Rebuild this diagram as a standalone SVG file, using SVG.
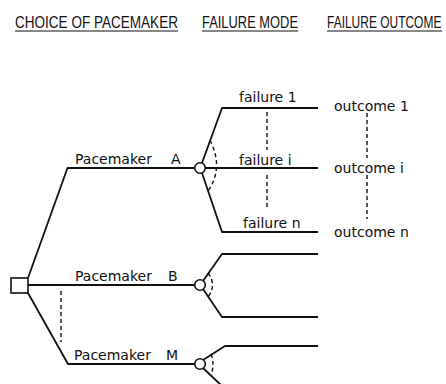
<svg xmlns="http://www.w3.org/2000/svg" width="446" height="384" viewBox="0 0 446 384">
<style>
.hdr{font-family:"Liberation Sans",Arial,sans-serif;font-size:17px;fill:#111}
.lbl{font-family:"DejaVu Sans","Liberation Sans",sans-serif;font-size:14px;fill:#111}
.ln{fill:none;stroke:#111;stroke-width:1.8;stroke-linejoin:round}
.ul{fill:none;stroke:#111;stroke-width:1.2}
.dash{fill:none;stroke:#111;stroke-width:1.4;stroke-dasharray:4 3}
.nd{fill:#fff;stroke:#111;stroke-width:1.6}
</style>
<rect width="446" height="384" fill="#fff"/>
<g id="headers">
<text class="hdr" transform="translate(15,28) scale(0.776,1)" textLength="210" lengthAdjust="spacingAndGlyphs">CHOICE OF PACEMAKER</text>
<line class="ul" x1="15" y1="31" x2="178" y2="31"/>
<text class="hdr" transform="translate(202,28) scale(0.753,1)" textLength="127.5" lengthAdjust="spacingAndGlyphs">FAILURE MODE</text>
<line class="ul" x1="202" y1="31" x2="298" y2="31"/>
<text class="hdr" transform="translate(327,28) scale(0.7,1)" textLength="163.4" lengthAdjust="spacingAndGlyphs">FAILURE OUTCOME</text>
<line class="ul" x1="327" y1="31" x2="442" y2="31"/>
</g>
<g id="connectors">
<polyline class="ln" points="28,278 67.5,168 195,168"/>
<line class="ln" x1="28" y1="285" x2="195" y2="285"/>
<polyline class="ln" points="28,293 68,364 195,364"/>
<polyline class="ln" points="202,163 222,108 318,108"/>
<line class="ln" x1="205" y1="168" x2="318" y2="168"/>
<polyline class="ln" points="202,173 222,232 318,232"/>
<polyline class="ln" points="203,281 222,254 318,254"/>
<polyline class="ln" points="203,289 222,317 318,317"/>
<polyline class="ln" points="203,360 225,346 318,346"/>
<line class="ln" x1="203" y1="368" x2="222" y2="386"/>
<path class="dash" d="M210,140 Q224,168 208,191"/>
<path class="dash" d="M208,273 Q217,285 208,297"/>
<path class="dash" d="M211,354 Q215,364 211,375"/>
<line class="dash" x1="267" y1="112" x2="267" y2="150"/>
<line class="dash" x1="267" y1="175" x2="267" y2="210"/>
<line class="dash" x1="367" y1="113" x2="367" y2="158"/>
<line class="dash" x1="367" y1="175" x2="367" y2="219"/>
<line class="dash" x1="61" y1="291" x2="61" y2="342"/>
</g>
<g id="decision"><rect class="nd" x="11" y="278" width="17" height="15"/></g>
<g id="pacemakerA">
<text class="lbl" x="75" y="164" font-size="15">Pacemaker<tspan x="171">A</tspan></text>
<circle class="nd" cx="200" cy="168" r="5.3"/>
</g>
<g id="pacemakerB">
<text class="lbl" x="75" y="281" font-size="15">Pacemaker<tspan x="168">B</tspan></text>
<circle class="nd" cx="200" cy="285" r="5.3"/>
</g>
<g id="pacemakerM">
<text class="lbl" x="74" y="360" font-size="15">Pacemaker<tspan x="166">M</tspan></text>
<circle class="nd" cx="200" cy="364" r="5.3"/>
</g>
<g id="failure1"><text class="lbl" x="239" y="102">failure 1</text></g>
<g id="failurei"><text class="lbl" x="239" y="165">failure i</text></g>
<g id="failuren"><text class="lbl" x="243" y="228">failure n</text></g>
<g id="outcome1"><text class="lbl" x="334" y="111">outcome 1</text></g>
<g id="outcomei"><text class="lbl" x="334" y="173">outcome i</text></g>
<g id="outcomen"><text class="lbl" x="334" y="237">outcome n</text></g>
</svg>
